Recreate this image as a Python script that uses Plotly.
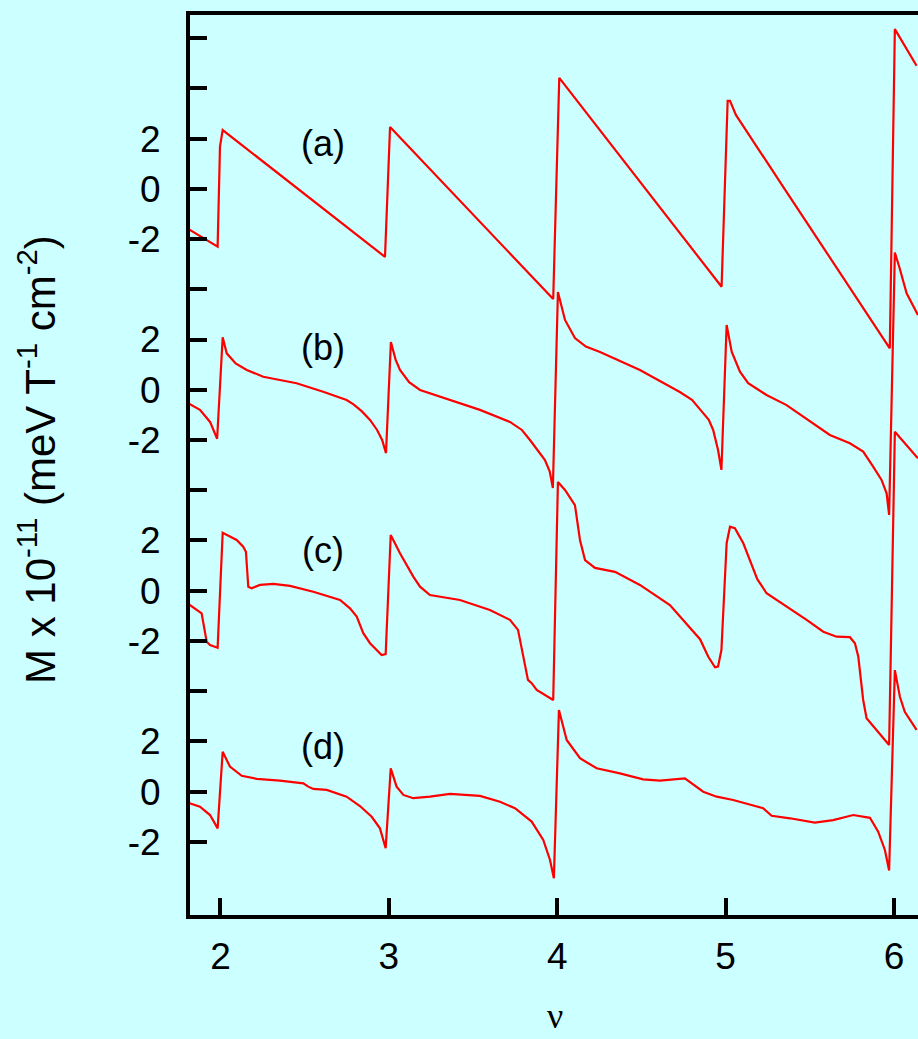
import plotly.graph_objects as go

# ---------------- data ----------------
# curve (a)
nu_a = [1.800, 1.983, 1.997, 2.013, 2.977, 3.007, 3.976, 4.012, 4.976,
        5.012, 5.026, 5.061, 5.342, 5.975, 6.005, 6.134]
M_a = [-1.56, -2.30, 1.68, 2.34, -2.71, 2.46, -4.39, 4.42, -3.90,
       3.50, 3.50, 2.94, 0.08, -6.35, 6.36, 4.90]

# curve (b)
nu_b = [1.800, 1.878, 1.938, 1.980, 2.013, 2.037, 2.090, 2.156, 2.254, 2.452,
        2.610, 2.749, 2.790, 2.840, 2.888, 2.930, 2.960, 2.983, 3.012, 3.040,
        3.066, 3.120, 3.185, 3.363, 3.541, 3.719, 3.790, 3.838, 3.890, 3.927,
        3.955, 3.974, 4.004, 4.046, 4.105, 4.170, 4.254, 4.491, 4.728, 4.800,
        4.848, 4.900, 4.926, 4.955, 4.975, 5.006, 5.036, 5.085, 5.134, 5.243,
        5.362, 5.501, 5.619, 5.738, 5.817, 5.876, 5.926, 5.956, 5.971, 6.005,
        6.031, 6.075, 6.142]
M_b = [-0.50, -0.80, -1.28, -1.95, 2.09, 1.45, 1.05, 0.79, 0.52, 0.26,
       -0.08, -0.41, -0.58, -0.86, -1.20, -1.60, -2.00, -2.52, 1.90, 1.20,
       0.79, 0.30, -0.01, -0.41, -0.80, -1.28, -1.60, -2.00, -2.45, -2.80,
       -3.25, -3.91, 3.89, 2.78, 2.06, 1.72, 1.50, 0.79, -0.09, -0.40,
       -0.78, -1.20, -1.60, -2.40, -3.19, 2.58, 1.52, 0.72, 0.26, -0.21,
       -0.61, -1.27, -1.80, -2.13, -2.46, -3.06, -3.59, -4.12, -4.98, 5.46,
       4.90, 3.84, 2.98]

# curve (c)
nu_c = [1.800, 1.878, 1.888, 1.918, 1.938, 1.983, 2.013, 2.096, 2.135, 2.151,
        2.165, 2.185, 2.235, 2.314, 2.413, 2.551, 2.710, 2.769, 2.809, 2.848,
        2.888, 2.957, 2.981, 3.011, 3.066, 3.145, 3.185, 3.244, 3.422, 3.600,
        3.719, 3.767, 3.803, 3.826, 3.848, 3.878, 3.976, 4.004, 4.046, 4.105,
        4.135, 4.165, 4.224, 4.343, 4.491, 4.669, 4.848, 4.897, 4.937, 4.955,
        4.975, 5.006, 5.026, 5.055, 5.105, 5.144, 5.188, 5.243, 5.382, 5.481,
        5.580, 5.659, 5.738, 5.768, 5.788, 5.817, 5.837, 5.897, 5.971, 6.005,
        6.142]
M_c = [-0.48, -0.83, -0.90, -2.03, -2.16, -2.27, 2.31, 2.02, 1.75, 1.55,
       0.16, 0.10, 0.23, 0.27, 0.19, -0.04, -0.37, -0.70, -1.03, -1.69,
       -2.09, -2.56, -2.52, 2.22, 1.49, 0.56, 0.16, -0.17, -0.37, -0.77,
       -1.16, -1.56, -2.76, -3.55, -3.68, -3.95, -4.35, 4.33, 4.01, 3.41,
       2.02, 1.22, 0.91, 0.75, 0.23, -0.57, -1.93, -2.63, -3.05, -3.02,
       -2.36, 1.89, 2.55, 2.49, 1.89, 1.22, 0.46, -0.10, -0.70, -1.16,
       -1.63, -1.83, -1.85, -2.09, -2.63, -4.35, -5.08, -5.54, -6.14, 6.33,
       5.27]

# curve (d)
nu_d = [1.800, 1.878, 1.938, 1.967, 1.983, 2.013, 2.056, 2.126, 2.215, 2.353,
        2.492, 2.521, 2.551, 2.631, 2.749, 2.828, 2.898, 2.947, 2.981, 3.011,
        3.046, 3.086, 3.145, 3.244, 3.363, 3.541, 3.660, 3.749, 3.848, 3.917,
        3.957, 3.980, 4.010, 4.056, 4.135, 4.234, 4.372, 4.510, 4.610, 4.758,
        4.867, 4.947, 5.045, 5.223, 5.273, 5.382, 5.530, 5.639, 5.758, 5.857,
        5.906, 5.946, 5.971, 6.005, 6.035, 6.064, 6.134]
M_d = [-0.42, -0.60, -0.93, -1.26, -1.46, 1.59, 1.00, 0.63, 0.51, 0.44,
       0.33, 0.20, 0.11, 0.07, -0.20, -0.57, -1.00, -1.46, -2.25, 0.93,
       0.20, -0.13, -0.26, -0.20, -0.09, -0.17, -0.40, -0.66, -1.19, -1.92,
       -2.72, -3.45, 3.25, 2.06, 1.33, 0.93, 0.73, 0.49, 0.44, 0.53,
       0.00, -0.20, -0.33, -0.66, -0.96, -1.06, -1.23, -1.13, -0.93, -1.04,
       -1.59, -2.32, -3.14, 4.84, 3.78, 3.18, 2.46]

curve_labels = ["(a)", "(b)", "(c)", "(d)"]
curve_offsets = [24, 16, 8, 0]

x_tick_vals = [2, 3, 4, 5, 6]
y_tick_vals = [-2, 0, 2, 4, 6, 8, 10, 12, 14, 16, 18, 20, 22, 24, 26, 28, 30]
y_tick_text = ["-2", "0", "2", "", "-2", "0", "2", "", "-2", "0", "2", "",
               "-2", "0", "2", "", ""]

# ---------------- figure ----------------
BG = "#CCFFFF"
FONT = "Liberation Sans, Arial, sans-serif"

fig = go.Figure()
series = [(nu_a, M_a), (nu_b, M_b), (nu_c, M_c), (nu_d, M_d)]
for (xs, ys), off in zip(series, curve_offsets):
    fig.add_trace(go.Scatter(
        x=xs, y=[v + off for v in ys], mode="lines",
        line=dict(color="#FF0000", width=2.2),
        showlegend=False, hoverinfo="skip"))

label_pos_y = [1.8, 1.7, 1.6, 1.8]
for lab, off, dy in zip(curve_labels, curve_offsets, label_pos_y):
    fig.add_annotation(x=2.61, y=off + dy, xref="x", yref="y", text=lab,
                       showarrow=False, font=dict(family=FONT, size=36, color="black"))

fig.add_annotation(text="M x 10<sup>-11</sup> (meV T<sup>-1</sup> cm<sup>-2</sup>)",
                   xref="paper", yref="paper", x=0, y=(915 - 460) / 900,
                   xanchor="center", yanchor="middle", xshift=-153,
                   textangle=-90, showarrow=False,
                   font=dict(family=FONT, size=42, color="black"))
fig.add_annotation(text="ν", xref="paper", yref="paper", x=(555 - 190) / 728, y=0,
                   xanchor="center", yanchor="middle", yshift=-101,
                   showarrow=False,
                   font=dict(family="Liberation Serif, serif", size=36, color="black"))

fig.update_layout(
    width=918, height=1039,
    margin=dict(l=190, r=0, t=15, b=124),
    paper_bgcolor=BG, plot_bgcolor=BG,
    xaxis=dict(range=[1.8189, 6.1425], showline=True, linewidth=4, linecolor="black",
               mirror=True, ticks="inside", ticklen=17, tickwidth=4, tickcolor="black",
               tickvals=x_tick_vals, ticktext=[str(v) for v in x_tick_vals],
               tickfont=dict(family=FONT, size=37, color="black"),
               showgrid=False, zeroline=False, ticklabelstandoff=6),
    yaxis=dict(range=[-4.91, 30.92], showline=True, linewidth=4, linecolor="black",
               mirror=False, ticks="inside", ticklen=17, tickwidth=4, tickcolor="black",
               tickvals=y_tick_vals, ticktext=y_tick_text,
               tickfont=dict(family=FONT, size=37, color="black"),
               showgrid=False, zeroline=False, ticklabelstandoff=18),
)

fig.write_html("out.html")
